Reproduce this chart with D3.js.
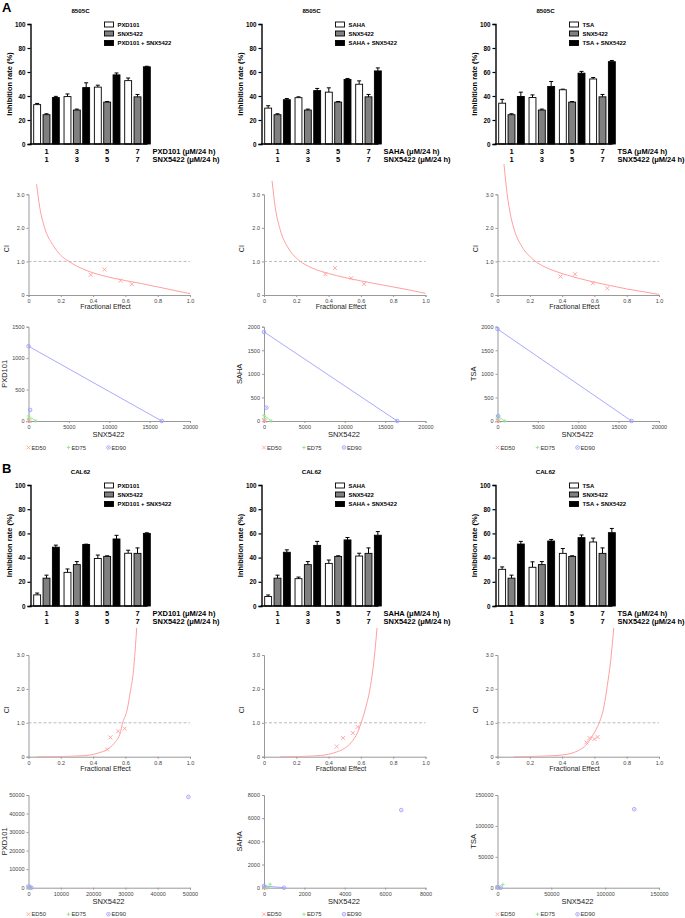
<!DOCTYPE html>
<html><head><meta charset="utf-8">
<script src="https://cdn.jsdelivr.net/npm/d3@7"></script>
<style>body{margin:0;background:#fff} text{font-family:"Liberation Sans",Arial,sans-serif}</style>
</head><body><svg id="c" width="685" height="918"></svg>
<script>
// ---------- DATA ----------
const doses = ["1", "3", "5", "7"];
const drugs = ["PXD101", "SAHA", "TSA"];
const cellLines = ["8505C", "CAL62"];
const partner = "SNX5422";

// Panel A (8505C) bar data: mean / error
const a_snx_mean = [24.4, 28.3, 34.9, 39.3];
const a_snx_err  = [0.8, 0.8, 0.5, 2.0];
const a_pxd_mean = [32.8, 39.5, 47.4, 52.8];
const a_pxd_err  = [1.0, 2.2, 1.6, 2.2];
const a_pxd_combo_mean = [38.7, 47.0, 57.6, 64.3];
const a_pxd_combo_err  = [1.0, 4.0, 1.6, 0.5];
const a_saha_mean = [29.9, 38.6, 43.2, 49.8];
const a_saha_err  = [2.0, 0.7, 3.6, 2.8];
const a_saha_combo_mean = [36.9, 44.5, 53.8, 60.9];
const a_saha_combo_err  = [1.0, 1.8, 0.8, 2.5];
const a_tsa_mean = [34.0, 38.7, 45.2, 54.2];
const a_tsa_err  = [3.2, 2.2, 0.5, 1.2];
const a_tsa_combo_mean = [39.6, 47.9, 59.0, 68.6];
const a_tsa_combo_err  = [3.6, 4.2, 1.5, 1.0];

// Panel B (CAL62) bar data
const b_snx_mean = [23.0, 34.2, 41.0, 43.5];
const b_snx_err  = [2.5, 2.5, 0.5, 4.5];
const b_pxd_mean = [9.2, 27.8, 39.3, 43.6];
const b_pxd_err  = [1.5, 2.8, 2.8, 2.5];
const b_pxd_combo_mean = [48.6, 50.8, 55.4, 60.0];
const b_pxd_combo_err  = [1.7, 0.3, 3.0, 0.5];
const b_saha_mean = [7.8, 22.6, 35.2, 41.3];
const b_saha_err  = [1.3, 1.3, 2.8, 2.3];
const b_saha_combo_mean = [44.4, 50.1, 54.6, 58.5];
const b_saha_combo_err  = [2.0, 3.3, 2.0, 3.0];
const b_tsa_mean = [30.3, 32.0, 43.5, 52.9];
const b_tsa_err  = [2.0, 4.5, 4.0, 3.2];
const b_tsa_combo_mean = [51.2, 53.7, 56.5, 60.6];
const b_tsa_combo_err  = [2.2, 1.3, 2.2, 3.5];

const barTicks = [0, 20, 40, 60, 80, 100];

// CI (Fa-CI) plots: curve points and data points
const ciTicks = [0, 1, 2, 3];
const faTicks = [0, 0.2, 0.4, 0.6, 0.8, 1.0];
const a_pxd_ci_curve_fa = [0.05,0.07,0.1,0.15,0.2,0.25,0.3,0.4,0.5,0.6,0.7,0.8,0.9,0.97,1.0];
const a_pxd_ci_curve    = [3.3,2.6,2.0,1.5,1.18,1.0,0.86,0.66,0.53,0.43,0.34,0.24,0.14,0.07,0.04];
const a_pxd_ci_fa = [0.385, 0.47, 0.57, 0.64];
const a_pxd_ci    = [0.60, 0.76, 0.43, 0.32];
const a_saha_ci_curve_fa = [0.05,0.07,0.1,0.15,0.2,0.25,0.3,0.4,0.5,0.6,0.7,0.8,0.9,0.97,1.0];
const a_saha_ci_curve    = [3.4,2.6,1.95,1.4,1.1,0.92,0.8,0.64,0.52,0.42,0.33,0.24,0.15,0.08,0.05];
const a_saha_ci_fa = [0.38, 0.44, 0.54, 0.62];
const a_saha_ci    = [0.62, 0.80, 0.50, 0.33];
const a_tsa_ci_curve_fa = [0.04,0.06,0.08,0.1,0.15,0.2,0.25,0.3,0.4,0.5,0.6,0.7,0.8,0.9,0.97,1.0];
const a_tsa_ci_curve    = [3.9,3.0,2.4,2.0,1.45,1.15,0.95,0.82,0.64,0.5,0.38,0.28,0.18,0.1,0.04,0.02];
const a_tsa_ci_fa = [0.39, 0.48, 0.59, 0.68];
const a_tsa_ci    = [0.55, 0.62, 0.35, 0.20];
const b_pxd_ci_curve_fa = [0.05,0.2,0.3,0.38,0.44,0.487,0.53,0.57,0.58,0.61,0.63,0.65,0.67];
const b_pxd_ci_curve    = [0.0,0.005,0.02,0.05,0.12,0.21,0.39,0.73,0.95,1.37,1.9,2.54,3.8];
const b_pxd_ci_fa = [0.487, 0.507, 0.555, 0.596];
const b_pxd_ci    = [0.215, 0.57, 0.75, 0.83];
const b_saha_ci_curve_fa = [0.1,0.2,0.3,0.4,0.45,0.5,0.54,0.58,0.6,0.63,0.66,0.68,0.7];
const b_saha_ci_curve    = [0.0,0.005,0.02,0.07,0.14,0.25,0.42,0.72,0.98,1.45,2.1,2.8,3.8];
const b_saha_ci_fa = [0.45, 0.49, 0.55, 0.58];
const b_saha_ci    = [0.30, 0.55, 0.70, 0.88];
const b_tsa_ci_curve_fa = [0.1,0.2,0.3,0.4,0.5,0.55,0.58,0.61,0.63,0.66,0.68,0.7,0.72];
const b_tsa_ci_curve    = [0.0,0.005,0.02,0.05,0.18,0.35,0.55,0.8,1.0,1.5,2.1,2.8,3.8];
const b_tsa_ci_fa = [0.55, 0.57, 0.60, 0.62];
const b_tsa_ci    = [0.42, 0.55, 0.52, 0.58];

// Isobolograms: rows ED50, ED75, ED90 -> [SNX5422 alone, drug alone, combo SNX5422, combo drug]
const edLevels = ["ED50", "ED75", "ED90"];
const a_pxd_iso  = [[150, 15, 5, 5], [900, 80, 40, 40], [16500, 1190, 200, 175]];
const a_saha_iso = [[150, 20, 8, 8], [900, 120, 60, 60], [16500, 1890, 290, 283]];
const a_tsa_iso  = [[150, 20, 5, 5], [900, 110, 30, 40], [16600, 1950, 80, 105]];
const b_pxd_iso  = [[60, 20, 80, 80], [300, 150, 700, 700], [900, 700, 49500, 49000]];
const b_saha_iso = [[40, 10, 30, 30], [200, 40, 300, 300], [990, 150, 6800, 6700]];
const b_tsa_iso  = [[500, 100, 500, 500], [2000, 500, 5000, 5000], [3000, 1200, 127000, 127000]];
const a_iso_ymax = [1500, 2000, 2000];
const a_iso_xmax = [20000, 20000, 20000];
const b_iso_ymax = [50000, 8000, 150000];
const b_iso_xmax = [50000, 8000, 150000];
const a_iso_ystep = [500, 500, 500];
const b_iso_ystep = [10000, 2000, 50000];
const a_iso_xstep = [5000, 5000, 5000];
const b_iso_xstep = [10000, 2000, 50000];

// ---------- DRAWING ----------
const svg = d3.select("#c");
const FONT = '"Liberation Sans",Arial,sans-serif';

const barColX = [30.5, 261.5, 495.5];
const plotColX = [28.5, 264, 497.5];

function barChart(x0, yTop, yBot, cell, drug, series) {
  const g = svg.append("g");
  const W = 117;
  const y = d3.scaleLinear().domain([0, 100]).range([yBot, yTop]);
  const xc = d3.scalePoint().domain(doses).range([x0 + 16, x0 + 107]);
  const labels = [drug, partner, drug + " + " + partner];
  const xs = d3.scaleBand().domain(labels).range([-12.8, 12.8]).paddingInner(0.26);
  const fills = ["#ffffff", "#808080", "#000000"];
  series.forEach((s, si) => {
    const lab = labels[si];
    doses.forEach((d, i) => {
      const bx = xc(d) + xs(lab);
      const bw = xs.bandwidth();
      const top = y(s.mean[i]), et = y(s.mean[i] + s.err[i]);
      g.append("line").attr("x1", bx + bw / 2).attr("x2", bx + bw / 2).attr("y1", top).attr("y2", et)
        .attr("stroke", "#000").attr("stroke-width", 1);
      g.append("line").attr("x1", bx + bw / 2 - 2).attr("x2", bx + bw / 2 + 2).attr("y1", et).attr("y2", et)
        .attr("stroke", "#000").attr("stroke-width", 1);
      g.append("rect").attr("x", bx).attr("y", top).attr("width", bw).attr("height", yBot - top)
        .attr("fill", fills[si]).attr("stroke", "#000").attr("stroke-width", 0.9);
    });
  });
  const ax = g.append("g").attr("transform", `translate(${x0},0)`)
    .call(d3.axisLeft(y).tickValues(barTicks).tickSize(3).tickPadding(2).tickFormat(d3.format("d")));
  ax.select(".domain").attr("stroke-width", 1.4);
  ax.selectAll(".tick line").attr("stroke-width", 1.2);
  ax.selectAll("text").attr("font-size", 6.3).attr("font-weight", "bold").attr("font-family", FONT);
  g.append("line").attr("x1", x0 - 0.7).attr("x2", x0 + W).attr("y1", yBot).attr("y2", yBot)
    .attr("stroke", "#000").attr("stroke-width", 1.4);
  g.append("text").attr("x", x0 + 50).attr("y", yTop - 11).attr("text-anchor", "middle")
    .attr("font-size", 6.2).attr("font-weight", "bold").text(cell);
  g.append("text").attr("transform", `translate(${x0 - 19},${(yTop + yBot) / 2}) rotate(-90)`)
    .attr("text-anchor", "middle").attr("font-size", 7.5).attr("font-weight", "bold").text("Inhibition rate (%)");
  labels.forEach((lab, i) => {
    const ly = yTop + [0.5, 9.5, 19][i];
    g.append("rect").attr("x", x0 + 74).attr("y", ly - 2.5).attr("width", 9).attr("height", 5)
      .attr("fill", fills[i]).attr("stroke", "#000").attr("stroke-width", 0.9);
    g.append("text").attr("x", x0 + 87).attr("y", ly + 2.1).attr("font-size", 5.9).attr("font-weight", "bold").text(lab);
  });
  [drug, partner].forEach((nm, r) => {
    const by = yBot + 10 + r * 8.3;
    doses.forEach(d => g.append("text").attr("x", xc(d)).attr("y", by).attr("text-anchor", "middle")
      .attr("font-size", 7.5).attr("font-weight", "bold").text(d));
    g.append("text").attr("x", x0 + 122).attr("y", by).attr("font-size", 7.5).attr("font-weight", "bold")
      .text(nm + " (\u03bcM/24 h)");
  });
}

let clipId = 0;
function styleAxis(a) {
  a.select(".domain").attr("stroke", "#999").attr("stroke-width", 1);
  a.selectAll(".tick line").attr("stroke", "#999");
  a.selectAll("text").attr("font-size", 5.5).attr("fill", "#444").attr("font-family", FONT);
}
function ciPlot(x0, y0, y3, curveFa, curveCi, ptFa, ptCi) {
  const g = svg.append("g");
  const x = d3.scaleLinear().domain([0, 1]).range([x0, x0 + 161.5]);
  const y = d3.scaleLinear().domain([0, 3]).range([y0, y3]);
  const fmt = d => d === 0 ? "0" : d3.format(".1f")(d);
  styleAxis(g.append("g").attr("transform", `translate(${x0},0)`)
    .call(d3.axisLeft(y).tickValues(ciTicks).tickSize(2).tickPadding(2).tickFormat(fmt)));
  styleAxis(g.append("g").attr("transform", `translate(0,${y0})`)
    .call(d3.axisBottom(x).tickValues(faTicks).tickSize(2).tickPadding(2).tickFormat(fmt)));
  g.append("line").attr("x1", x0).attr("x2", x0 + 161.5).attr("y1", y(1)).attr("y2", y(1))
    .attr("stroke", "#aaa").attr("stroke-width", 0.8).attr("stroke-dasharray", "3,2");
  const id = "clip" + (clipId++);
  svg.append("clipPath").attr("id", id).append("rect").attr("x", x0).attr("y", y(3.9)).attr("width", 162).attr("height", y0 - y(3.9));
  const pts = curveFa.map((f, i) => [f, curveCi[i]]);
  g.append("path").attr("clip-path", `url(#${id})`)
    .attr("d", d3.line().x(d => x(d[0])).y(d => y(d[1])).curve(d3.curveMonotoneX)(pts))
    .attr("fill", "none").attr("stroke", "#ff9f9f").attr("stroke-width", 1);
  ptFa.forEach((f, i) => {
    const px = x(f), py = y(ptCi[i]), s = 2;
    g.append("path").attr("d", `M${px - s},${py - s}L${px + s},${py + s}M${px - s},${py + s}L${px + s},${py - s}`)
      .attr("stroke", "#ff9f9f").attr("stroke-width", 0.9);
  });
  g.append("text").attr("transform", `translate(${x0 - 20},${(y0 + y3) / 2 + 4}) rotate(-90)`)
    .attr("text-anchor", "middle").attr("font-size", 7).attr("fill", "#222").text("CI");
  g.append("text").attr("x", x0 + 77).attr("y", y0 + 14).attr("text-anchor", "middle")
    .attr("font-size", 7).attr("fill", "#222").text("Fractional Effect");
}

function isoPlot(x0, y0, yTop, xmax, ymax, xstep, ystep, drug, rows) {
  const g = svg.append("g");
  const x = d3.scaleLinear().domain([0, xmax]).range([x0, x0 + 161.5]);
  const y = d3.scaleLinear().domain([0, ymax]).range([y0, yTop]);
  styleAxis(g.append("g").attr("transform", `translate(${x0},0)`)
    .call(d3.axisLeft(y).tickValues(d3.range(0, ymax + 1, ystep)).tickSize(2).tickPadding(2).tickFormat(d3.format("d"))));
  styleAxis(g.append("g").attr("transform", `translate(0,${y0})`)
    .call(d3.axisBottom(x).tickValues(d3.range(0, xmax + 1, xstep)).tickSize(2).tickPadding(2).tickFormat(d3.format("d"))));
  const cols = ["#ff9f9f", "#8fe88f", "#9f9fff"];
  rows.forEach((r, i) => {
    g.append("line").attr("x1", x(0)).attr("y1", y(r[1])).attr("x2", x(r[0])).attr("y2", y(0))
      .attr("stroke", cols[i]).attr("stroke-width", 0.9);
    [[0, r[1]], [r[0], 0], [r[2], r[3]]].forEach(p => marker(g, x(p[0]), y(p[1]), i, cols[i]));
  });
  g.append("text").attr("transform", `translate(${x0 - 22},${(y0 + yTop) / 2}) rotate(-90)`)
    .attr("text-anchor", "middle").attr("font-size", 7.5).attr("fill", "#222").text(drug);
  g.append("text").attr("x", x0 + 80).attr("y", y0 + 16).attr("text-anchor", "middle")
    .attr("font-size", 7.5).attr("fill", "#222").text(partner);
  edLevels.forEach((e, i) => {
    const lx = x0 + i * 40, ly = y0 + 26.5;
    marker(g, lx, ly, i, cols[i]);
    g.append("text").attr("x", lx + 3).attr("y", ly + 2).attr("font-size", 5.8).attr("fill", "#333").text(e);
  });
}

function marker(g, px, py, type, col) {
  const s = 1.8;
  if (type === 0) {
    g.append("path").attr("d", `M${px - s},${py - s}L${px + s},${py + s}M${px - s},${py + s}L${px + s},${py - s}`)
      .attr("stroke", col).attr("stroke-width", 0.9);
  } else if (type === 1) {
    g.append("path").attr("d", `M${px - s},${py}L${px + s},${py}M${px},${py - s}L${px},${py + s}`)
      .attr("stroke", col).attr("stroke-width", 0.9);
  } else {
    g.append("circle").attr("cx", px).attr("cy", py).attr("r", 1.8).attr("fill", "none").attr("stroke", col).attr("stroke-width", 0.9);
    g.append("circle").attr("cx", px).attr("cy", py).attr("r", 0.6).attr("fill", col);
  }
}

svg.append("text").attr("x", 2).attr("y", 12).attr("font-size", 13).attr("font-weight", "bold").text("A");
svg.append("text").attr("x", 2).attr("y", 473).attr("font-size", 13).attr("font-weight", "bold").text("B");

const aBars = [
  [a_pxd_mean, a_pxd_err, a_pxd_combo_mean, a_pxd_combo_err],
  [a_saha_mean, a_saha_err, a_saha_combo_mean, a_saha_combo_err],
  [a_tsa_mean, a_tsa_err, a_tsa_combo_mean, a_tsa_combo_err]];
const bBars = [
  [b_pxd_mean, b_pxd_err, b_pxd_combo_mean, b_pxd_combo_err],
  [b_saha_mean, b_saha_err, b_saha_combo_mean, b_saha_combo_err],
  [b_tsa_mean, b_tsa_err, b_tsa_combo_mean, b_tsa_combo_err]];
const aCI = [
  [a_pxd_ci_curve_fa, a_pxd_ci_curve, a_pxd_ci_fa, a_pxd_ci],
  [a_saha_ci_curve_fa, a_saha_ci_curve, a_saha_ci_fa, a_saha_ci],
  [a_tsa_ci_curve_fa, a_tsa_ci_curve, a_tsa_ci_fa, a_tsa_ci]];
const bCI = [
  [b_pxd_ci_curve_fa, b_pxd_ci_curve, b_pxd_ci_fa, b_pxd_ci],
  [b_saha_ci_curve_fa, b_saha_ci_curve, b_saha_ci_fa, b_saha_ci],
  [b_tsa_ci_curve_fa, b_tsa_ci_curve, b_tsa_ci_fa, b_tsa_ci]];
const aIso = [a_pxd_iso, a_saha_iso, a_tsa_iso];
const bIso = [b_pxd_iso, b_saha_iso, b_tsa_iso];

drugs.forEach((drug, c) => {
  const A = aBars[c], B = bBars[c];
  barChart(barColX[c], 24, 144, cellLines[0], drug, [
    {mean: A[0], err: A[1]}, {mean: a_snx_mean, err: a_snx_err}, {mean: A[2], err: A[3]}]);
  barChart(barColX[c], 485, 606, cellLines[1], drug, [
    {mean: B[0], err: B[1]}, {mean: b_snx_mean, err: b_snx_err}, {mean: B[2], err: B[3]}]);
  ciPlot(plotColX[c], 295, 194.3, ...aCI[c]);
  ciPlot(plotColX[c], 756.7, 655, ...bCI[c]);
  isoPlot(plotColX[c], 421, 326.7, a_iso_xmax[c], a_iso_ymax[c], a_iso_xstep[c], a_iso_ystep[c], drug, aIso[c]);
  isoPlot(plotColX[c], 887.7, 795, b_iso_xmax[c], b_iso_ymax[c], b_iso_xstep[c], b_iso_ystep[c], drug, bIso[c]);
});
</script></body></html>
